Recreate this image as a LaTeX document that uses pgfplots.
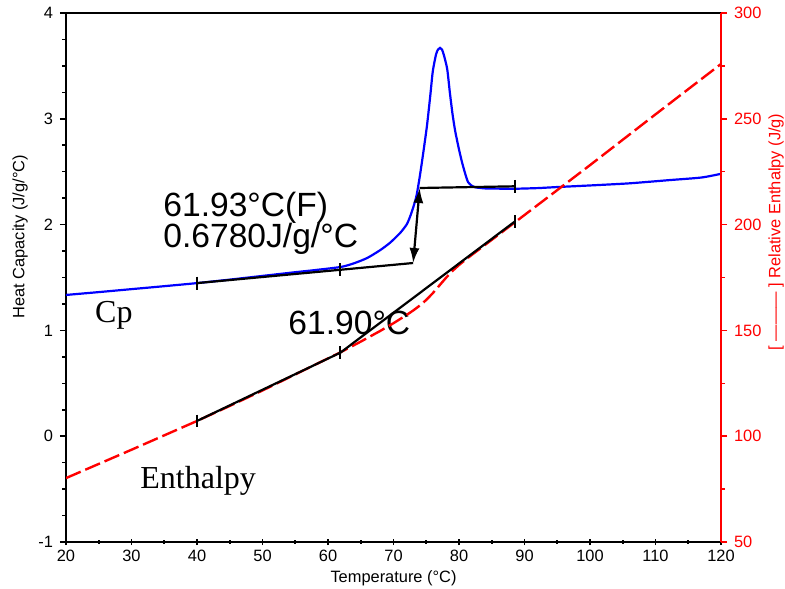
\documentclass[border=0pt]{standalone}
\usepackage{pgfplots}
\pgfplotsset{compat=1.18}
\usepackage{fontspec}
\setmainfont{Liberation Sans}
\newfontfamily\serifcp{Liberation Serif}
\usetikzlibrary{arrows.meta}
\begin{document}
\begin{tikzpicture}
\pgfplotsset{
  common/.style={
    width=327.5pt, height=264.5pt, scale only axis,
    xmin=20, xmax=120,
    ticklabel style={font=\fontsize{8.2}{9}\selectfont},
    label style={font=\fontsize{8.2}{9}\selectfont},
    major tick length=3pt, minor tick length=1.8pt,
  }
}
\begin{axis}[common, name=ax,
  ymin=-1, ymax=4,
  xtick={20,30,...,120},
  xticklabels={20,30,40,50,60,70,80,90,100,110,120},
  minor x tick num=1,
  ytick={-1,0,1,2,3,4},
  yticklabels={-1,0,1,2,3,4},
  minor y tick num=3,
  xtick pos=bottom, ytick pos=left,
  xtick align=center, ytick align=outside,
  axis line style={black, line width=1pt},
  tick style={black, line width=0.8pt},
  xticklabel style={yshift=1pt},
  xlabel={Temperature (°C)},
  xlabel style={at={(axis description cs:0.5,0)}, anchor=base, yshift=-20pt},
  ylabel={Heat Capacity (J/g/°C)},
  ylabel style={at={(axis description cs:-0.0702,0.577)}, anchor=center},
]
\addplot[blue, line width=1.1pt, smooth, tension=0.4] coordinates {
(20,1.335) (25,1.362) (30,1.39) (35,1.418) (40,1.447) (45,1.48) (50,1.515)
(55,1.55) (58,1.57) (62,1.60) (64,1.635) (66,1.685) (68,1.76) (69.5,1.83)
(71,1.92) (72,2.00) (72.5,2.07) (73,2.16) (73.5,2.27) (74.0,2.45) (74.5,2.66)
(75.1,2.93) (75.6,3.21) (76.0,3.45) (76.5,3.61) (76.8,3.655) (77.1,3.67)
(77.4,3.655) (77.7,3.60) (78.2,3.47) (78.6,3.25) (79.0,3.05) (79.4,2.89)
(80.0,2.71) (80.5,2.58) (81.0,2.47) (81.4,2.40) (82.0,2.365) (82.5,2.352)
(84,2.342) (86,2.34) (88,2.338) (92,2.345) (95,2.355) (100,2.37) (106,2.39)
(112,2.42) (117,2.445) (120,2.48)
};
\addplot[black, line width=1.1pt] coordinates {(40,1.447) (73.0,1.637)};
\addplot[black, line width=1.1pt] coordinates {(74.0,2.346) (88.5,2.362)};
\addplot[black, line width=1.1pt, {Latex[length=7.5pt,width=5pt]}-{Latex[length=7.5pt,width=5pt]}] coordinates {(73.0,1.637) (74.0,2.346)};
\addplot[black, only marks, mark=|, mark size=3.2pt, mark options={line width=1pt}] coordinates {(40,1.447) (61.9,1.573) (88.5,2.362)};
\node[anchor=base west, inner sep=0, font=\fontsize{16.8}{18}\selectfont] at (axis cs:34.81,2.072) {61.93°C(F)};
\node[anchor=base west, inner sep=0, font=\fontsize{16.8}{18}\selectfont] at (axis cs:34.81,1.788) {0.6780J/g/°C};
\node[anchor=base west, inner sep=0, font=\fontsize{16.8}{18}\selectfont] at (axis cs:53.9,0.957) {61.90°C};
\node[anchor=base west, inner sep=0, font=\serifcp\fontsize{16}{18}\selectfont] at (axis cs:24.4,1.07) {Cp};
\node[anchor=base west, inner sep=0, font=\serifcp\fontsize{16}{18}\selectfont] at (axis cs:31.3,-0.49) {Enthalpy};
\end{axis}
\begin{axis}[common,
  ymin=50, ymax=300,
  axis y line*=right, axis x line=none,
  ytick={50,100,...,300},
  yticklabels={50,100,150,200,250,300},
  minor y tick num=1,
  ytick align=outside,
  y axis line style={red, line width=1pt},
  ytick style={red, line width=0.8pt},
  yticklabel style={text=red},
  ylabel={[ ——— ] Relative Enthalpy (J/g)},
  ylabel style={text=red, at={(axis description cs:1.084,0.586)}, anchor=center},
]
\addplot[red, line width=1.2pt, dash pattern=on 8pt off 2.5pt] coordinates {
(20,80.2) (25,86.9) (30,93.6) (35,100.4) (40,107.2) (45,114.3) (50,121.6)
(55,129.2) (62,139.8) (65,144.7) (68,149.8) (70,153.4) (72,157.3) (73,159.4)
(74,161.7) (75,164.4) (76,167.6) (77,171.2) (78,174.8) (79,178.1) (80,180.9)
(81,183.4) (82,185.8) (85,192.8) (88.5,201.0) (95,216.3) (100,228.1)
(110,252.1) (120,275.9)
};
\addplot[black, line width=1.1pt] coordinates {(40,107.2) (61.9,139.5) (88.5,201.4)};
\addplot[black, only marks, mark=|, mark size=3.2pt, mark options={line width=1pt}] coordinates {(40,107.2) (61.9,139.5) (88.5,201.4)};
\end{axis}
\pgfresetboundingbox
\path ([xshift=-33pt,yshift=-23pt]ax.south west) rectangle ([xshift=32pt,yshift=6.5pt]ax.north east);
\end{tikzpicture}
\end{document}
